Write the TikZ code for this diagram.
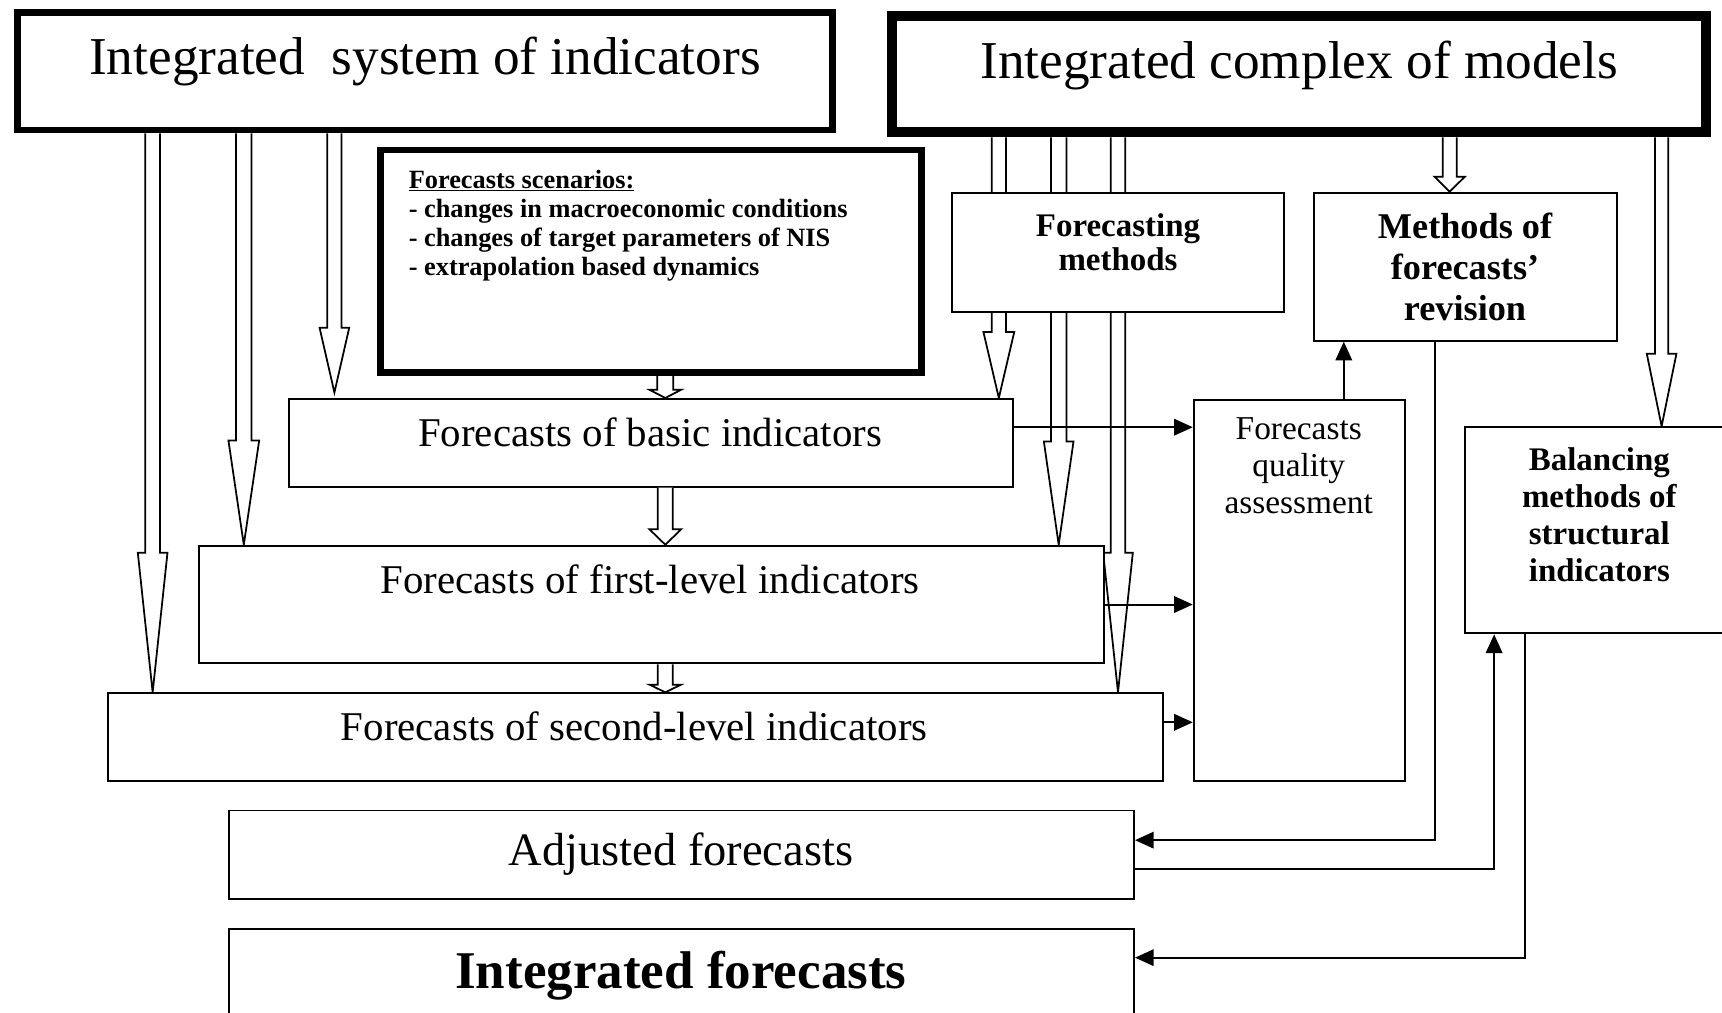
\documentclass[tikz,border=0pt]{standalone}
\usepackage{fontspec}
\setmainfont{Liberation Serif}
\usetikzlibrary{arrows.meta,calc}
\pgfdeclarelayer{bg}
\pgfsetlayers{bg,main}
\tikzset{
  box/.style={draw, line width=1.8pt, fill=white, inner sep=0pt},
  hollow/.style={draw, line width=1.6pt, fill=white, line join=miter},
  conn/.style={draw, line width=1.8pt, -{Triangle[length=17pt,width=15pt]}},
  txt/.style={inner sep=0pt, anchor=base, align=center},
}
% #1 x, #2 start anchor, #3 tip anchor, #4 shaft half width, #5 head half width, #6 head length
\newcommand\hollowarrow[6]{%
  \draw[hollow] let \p1=(#2), \p2=(#3) in
    ({#1pt-#4pt},\y1) -- ({#1pt-#4pt},{\y2+#6pt}) -- ({#1pt-#5pt},{\y2+#6pt}) --
    (#1pt,\y2) -- ({#1pt+#5pt},{\y2+#6pt}) -- ({#1pt+#4pt},{\y2+#6pt}) -- ({#1pt+#4pt},\y1);
}
\begin{document}
\begin{tikzpicture}[x=1pt,y=-1pt]
\useasboundingbox (0,0) rectangle (1568,922);
\begin{pgfonlayer}{bg}
\fill[white] (0,0) rectangle (1568,922);
\end{pgfonlayer}
\clip (0,0) rectangle (1568,922);

% boxes
\node[box, line width=6pt, minimum width=742pt, minimum height=107pt] (A) at (387,65) {};
\node[box, line width=9pt, minimum width=741pt, minimum height=106pt] (B) at (1183,67.5) {};
\node[box, line width=6pt, minimum width=492.8pt, minimum height=202.8pt] (C) at (592.9,238) {};
\node[box, minimum width=302pt, minimum height=108.3pt] (D) at (1018,229.6) {};
\node[box, minimum width=275.4pt, minimum height=134.7pt] (E) at (1334.3,242.85) {};
\node[box, minimum width=659.3pt, minimum height=79.9pt] (F) at (592.65,403.25) {};
\node[box, minimum width=824.1pt, minimum height=107.1pt] (G) at (592.85,550.45) {};
\node[box, minimum width=961pt, minimum height=79.9pt] (H) at (578.9,671.25) {};
\node[box, minimum width=192.7pt, minimum height=347pt] (I) at (1183.35,537.7) {};
\node[box, minimum width=266.3pt, minimum height=187.7pt] (J) at (1466.85,482.85) {};
\node[box, minimum width=824.1pt, minimum height=80.6pt] (K) at (620.55,778.3) {};
\node[box, minimum width=824.1pt, minimum height=104pt] (L) at (620.55,898) {};

% long hollow arrows (behind the boxes)
\begin{pgfonlayer}{bg}
\hollowarrow{139}{A.south}{H.north}{6.75}{13.5}{127}
\hollowarrow{222}{A.south}{G.north}{7}{14}{95}
\hollowarrow{304.5}{A.south}{$(F.north)+(0,-5)$}{6.5}{13.5}{59}
\hollowarrow{909.5}{B.south}{F.north}{6.5}{14}{60}
\hollowarrow{964}{B.south}{G.north}{7}{13.5}{94}
\hollowarrow{1018}{B.south}{H.north}{6.5}{13.5}{127}
\hollowarrow{1513}{B.south}{J.north}{6}{13.5}{66}
\end{pgfonlayer}

% short hollow arrows
\hollowarrow{1320}{B.south}{E.north}{6.4}{13.7}{13.6}
\hollowarrow{605.8}{C.south}{F.north}{7.3}{14.4}{7.5}
\hollowarrow{605.8}{F.south}{G.north}{6.8}{14.4}{14}
\hollowarrow{605.8}{G.south}{H.north}{6.8}{14.4}{7}

% texts (multi-line nodes: base = baseline of the last line)
\node[txt, font=\fontsize{48.5}{58}\selectfont] (At) at (387,67.4) {Integrated\ \ system of indicators};
\node[txt, font=\fontsize{48.5}{58}\selectfont] (Bt) at (1183,71.3) {Integrated complex of models};
\node[txt, anchor=base west, align=left, font=\fontsize{24}{26.6}\selectfont\bfseries] (Ct) at (372,251.3)
  {\underline{Forecasts scenarios:}\\- changes in macroeconomic conditions\\- changes of target parameters of NIS\\- extrapolation based dynamics};
\node[txt, font=\fontsize{30}{31}\selectfont\bfseries] (Dt) at (1018,246.5) {Forecasting\\methods};
\node[txt, font=\fontsize{33}{37.5}\selectfont\bfseries] (Et) at (1334,292) {Methods of\\forecasts’\\revision};
\node[txt, font=\fontsize{37.2}{44}\selectfont] (Ft) at (592,406.7) {Forecasts of basic indicators};
\node[txt, font=\fontsize{37.2}{44}\selectfont] (Gt) at (592,540.3) {Forecasts of first-level indicators};
\node[txt, font=\fontsize{37.2}{44}\selectfont] (Ht) at (577.5,674.5) {Forecasts of second-level indicators};
\node[txt, font=\fontsize{30.4}{34}\selectfont] (It) at (1182.6,468) {Forecasts\\quality\\assessment};
\node[txt, font=\fontsize{30}{33.9}\selectfont\bfseries] (Jt) at (1456.3,529.7) {Balancing\\methods of\\structural\\indicators};
\node[txt, font=\fontsize{42.3}{50}\selectfont] (Kt) at (620,787.7) {Adjusted forecasts};
\node[txt, font=\fontsize{48.3}{58}\selectfont\bfseries] (Lt) at (620,900) {Integrated forecasts};

% connectors
\draw[conn] ([yshift=14.25pt]F.east) coordinate (p1) -- (p1 -| I.west);
\draw[conn] (G.east) -- (G.east -| I.west);
\draw[conn] ([yshift=13.55pt]H.east) coordinate (p3) -- (p3 -| I.west);
\draw[conn] ([xshift=40.25pt]I.north) coordinate (q) -- (q |- E.south);
\draw[conn] ([xshift=-27.9pt]E.south) |- ([yshift=13.3pt]K.east);
\draw[conn] ([yshift=-13.3pt]K.east) -| ([xshift=-106.35pt]J.south);
\draw[conn] ([xshift=-78.25pt]J.south) |- ([yshift=26pt]L.east);
\end{tikzpicture}
\end{document}
